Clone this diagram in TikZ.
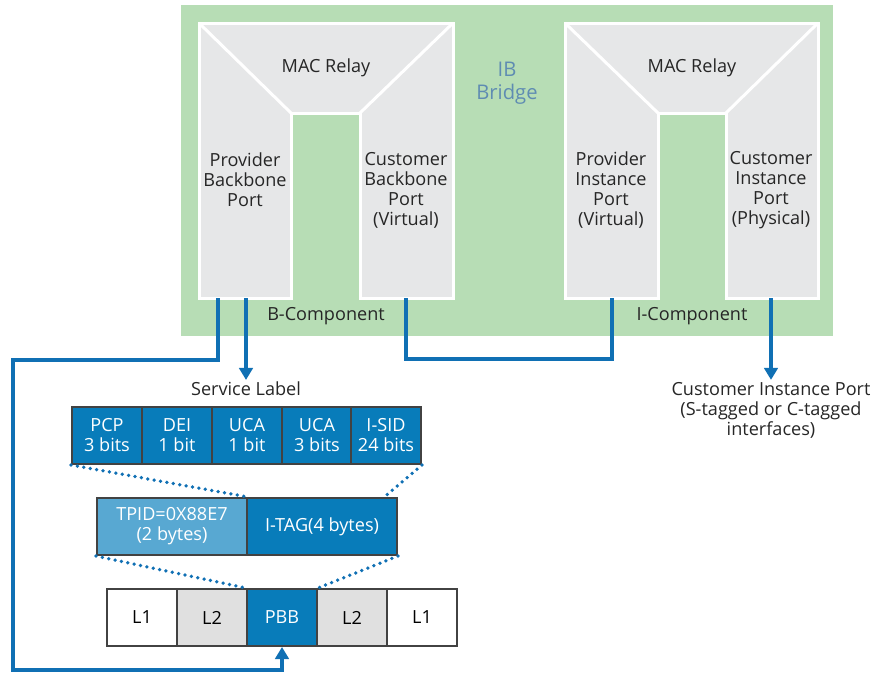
\documentclass[tikz,border=0pt]{standalone}
\usepackage{fontspec}
\setmainfont{Open Sans}
\usetikzlibrary{
    arrows.meta,
    positioning,
    calc
}
\definecolor{ibgreen}{RGB}{183,221,181}
\definecolor{relaygray}{RGB}{230,231,232}
\definecolor{jnblue}{RGB}{16,112,180}
\definecolor{fieldblue}{RGB}{8,124,186}
\definecolor{tpidblue}{RGB}{88,168,210}
\definecolor{ibtext}{RGB}{95,140,178}
\definecolor{cellgray}{RGB}{224,224,224}
\definecolor{edgegray}{RGB}{66,66,66}
\tikzset{
  relay/.style  = {fill=relaygray, draw=white, line width=0.06cm, line join=miter},
  lbl/.style    = {align=center, text=black!85, inner sep=1pt,
                   font=\fontsize{10.3}{11.4}\selectfont},
  field/.style  = {draw=edgegray, line width=0.04cm, fill=fieldblue, text=white,
                   minimum width=1.4cm, minimum height=1.14cm, inner sep=0pt,
                   align=center, font=\fontsize{10.3}{11.4}\selectfont},
  link/.style   = {jnblue, line width=0.07cm},
  arr/.style    = {link, -{Triangle[length=0.24cm, width=0.27cm]}},
  dots/.style   = {jnblue, line width=0.075cm, line cap=round,
                   dash pattern=on 0pt off 0.13cm}
}

\begin{document}
\begin{tikzpicture}[x=0.02cm, y=-0.02cm]
  \useasboundingbox (0,0) rectangle (876,677);

  % IB bridge
  \fill[ibgreen] (181,5) rectangle (833,336);

  % B-component relay
  \draw[relay] (199,23) -- (453,23) -- (453,298) -- (360,298) -- (360,113)
    -- (291,113) -- (291,298) -- (199,298) -- cycle;
  \draw[white, line width=0.06cm] (199,23) -- (291,113) (453,23) -- (360,113);

  % I-component relay
  \draw[relay] (565,23) -- (818,23) -- (818,298) -- (726,298) -- (726,113)
    -- (658,113) -- (658,298) -- (565,298) -- cycle;
  \draw[white, line width=0.06cm] (565,23) -- (658,113) (818,23) -- (726,113);

  \node[lbl] (brelay) at (326,68) {MAC Relay};
  \node[lbl] (irelay) at (692,68) {MAC Relay};
  \node[lbl, text=ibtext, font=\fontsize{11.5}{13}\selectfont] (ib) at (507,83) {IB\\Bridge};

  \node[lbl] (pbport) at (245,180) {Provider\\Backbone\\Port};
  \node[lbl] (cbport) at (406,190) {Customer\\Backbone\\Port\\(Virtual)};
  \node[lbl] (piport) at (611,190) {Provider\\Instance\\Port\\(Virtual)};
  \node[lbl] (ciport) at (771,190) {Customer\\Instance\\Port\\(Physical)};

  \node[lbl] (bcomp) at (326,316) {B-Component};
  \node[lbl] (icomp) at (692,316) {I-Component};

  \coordinate (pbpa) at (218,298);
  \coordinate (pbpb) at (246,298);
  \coordinate (cbp)  at (406,298);
  \coordinate (pip)  at (612,298);
  \coordinate (cip)  at (771,298);

  % service label
  \node[lbl] (slabel) at (246,389) {Service Label};
  \node[field] (pcp)  at (107,435.5) {PCP\\3 bits};
  \node[field] (dei)  at (177,435.5) {DEI\\1 bit};
  \node[field] (uca1) at (247,435.5) {UCA\\1 bit};
  \node[field] (uca3) at (317,435.5) {UCA\\3 bits};
  \node[field] (isid) at (386,435.5) {I-SID\\24 bits};

  \node[field, fill=tpidblue, minimum width=3cm] (tpid) at (172,526.5) {TPID=0X88E7\\(2 bytes)};
  \node[field, minimum width=3cm] (itag) at (322,526.5) {I-TAG(4 bytes)};

  % frame
  \node[field, fill=white, text=black]    (l1a) at (142,617.5) {L1};
  \node[field, fill=cellgray, text=black] (l2a) at (212,617.5) {L2};
  \node[field]                            (pbb) at (282,617.5) {PBB};
  \node[field, fill=cellgray, text=black] (l2b) at (352,617.5) {L2};
  \node[field, fill=white, text=black]    (l1b) at (422,617.5) {L1};

  \node[lbl] (cilabel) at (771,410) {Customer Instance Port\\(S-tagged or C-tagged\\interfaces)};

  % connectors
  \draw[arr]  (pbpb) -- (slabel.north);
  \draw[arr]  (pbpa) -- ++(0,62) -| (13,670) -| (pbb.south);
  \draw[link] (cbp) -- ++(0,61) -| (pip);
  \draw[arr]  (cip) -- (cilabel.north);

  \draw[dots] (pcp.south west) -- (tpid.north east);
  \draw[dots] (isid.south east) -- ($(itag.north east)!0.09!(itag.north west)$);
  \draw[dots] (tpid.south west) -- (pbb.north west);
  \draw[dots] (itag.south east) -- (pbb.north east);
\end{tikzpicture}
\end{document}
